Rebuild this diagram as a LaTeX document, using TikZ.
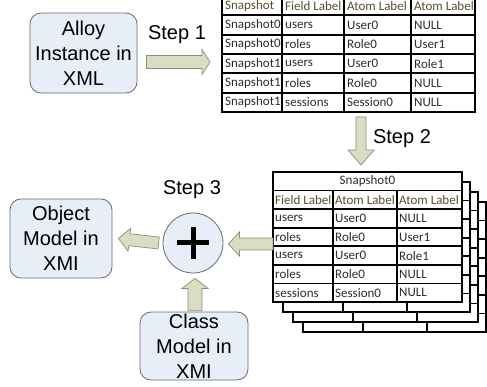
\documentclass[tikz,border=0pt]{standalone}
\usepackage{fontspec}
\setmainfont{Liberation Sans}
\newfontfamily\tabfont{Carlito}
\usetikzlibrary{calc}
\definecolor{boxfill}{RGB}{232,238,248}
\definecolor{boxline}{RGB}{105,105,110}
\definecolor{arrfill}{RGB}{218,221,196}
\definecolor{arrline}{RGB}{140,142,122}
\definecolor{hdr}{RGB}{88,78,38}
\definecolor{celltext}{RGB}{45,45,45}
\tikzset{
  model/.style={draw=boxline, fill=boxfill, rounded corners=11pt, line width=0.8pt,
                align=center, inner sep=0pt, font=\fontsize{20}{25}\selectfont},
  merge/.style={draw=boxline, fill=boxfill, circle, line width=0.8pt,
                minimum size=60pt, inner sep=0pt},
  fat/.style={draw=arrline, fill=arrfill, line width=0.7pt, line join=miter},
  steplbl/.style={font=\fontsize{20}{24}\selectfont},
  cell/.style={anchor=west, inner sep=0pt, text=celltext,
               font=\tabfont\fontsize{13}{15}\selectfont},
  grid/.style={line width=1.8pt, black},
}
% block arrow: tail, tip, half shaft, half head, head length
\newcommand\fatarrow[5]{%
  \coordinate (fa-h) at ($(#2)!#5!(#1)$);
  \filldraw[fat] ($(#1)!#3!90:(#2)$) -- ($(fa-h)!#3!-90:(#1)$) -- ($(fa-h)!#4!-90:(#1)$)
    -- (#2) -- ($(fa-h)!#4!90:(#1)$) -- ($(fa-h)!#3!90:(#1)$) -- ($(#1)!#3!-90:(#2)$) -- cycle;
}

\begin{document}
\begin{tikzpicture}[x=1pt, y=-1pt]
  \useasboundingbox (0,0) rectangle (487,387);
  \clip (0,0) rectangle (487,387);

  \node[model, minimum width=107pt, minimum height=80pt] (alloy) at (83.5,53) {Alloy\\Instance in\\XML};
  \node[model, minimum width=102pt, minimum height=79pt] (objmodel) at (61,238.5) {Object\\Model in\\XMI};
  \node[model, minimum width=108pt, minimum height=68pt] (clsmodel) at (194,346) {Class\\Model in\\XMI};
  \node[merge] (plus) at (193,243) {};
  \draw[line width=5pt] (plus.center) ++(-16,0) -- ++(32,0);
  \draw[line width=5pt] (plus.center) ++(0,-16) -- ++(0,32);

  \node[steplbl] (lbl1) at (177,35) {Step 1};
  \node[steplbl] (lbl2) at (402,139) {Step 2};
  \node[steplbl] (lbl3) at (192,190) {Step 3};

  % flat table of all snapshots
  \foreach \x in {222,282,344,411,475}
    \draw[grid] (\x,-4) -- (\x,112);
  \foreach \r in {0,...,6}
    \draw[grid] (221,{-4+19.33*\r}) -- (476,{-4+19.33*\r});
  \foreach \txt [count=\c from 0] in {Snapshot,Field Label,Atom Label,Atom Label}{
    \pgfmathsetmacro\cx{{222,282,344,411}[\c]+3}
    \node[cell, text=hdr] (top-0-\c) at (\cx,5.7) {\txt};
  }
  \foreach \line [count=\r] in {{Snapshot0,users,User0,NULL},{Snapshot0,roles,Role0,User1},
      {Snapshot1,users,User0,Role1},{Snapshot1,roles,Role0,NULL},{Snapshot1,sessions,Session0,NULL}}
    \foreach \txt [count=\c from 0] in \line{
      \pgfmathsetmacro\cx{{222,282,344,411}[\c]+3}
      \node[cell] (top-\r-\c) at (\cx,{5.7+19.33*\r}) {\txt};
    }

  % one table per snapshot, stacked
  \foreach \i in {3,2,1,0}{
    \pgfmathsetmacro\lx{273+10*\i}
    \pgfmathsetmacro\rx{462+8*\i}
    \pgfmathsetmacro\ty{172+10*\i}
    \filldraw[grid, fill=white] (\lx,\ty) rectangle (\rx,\ty+130);
    \foreach \r in {1,...,6}
      \draw[grid] (\lx,{\ty+18.57*\r}) -- (\rx,{\ty+18.57*\r});
    \draw[grid] (\lx+60,\ty+18.57) -- (\lx+60,\ty+130);
    \draw[grid] (\lx+124,\ty+18.57) -- (\lx+124,\ty+130);
  }
  \node[cell, anchor=center] (snap0) at (367.5,181.3) {Snapshot0};
  \foreach \txt [count=\c from 0] in {Field Label,Atom Label,Atom Label}{
    \pgfmathsetmacro\cx{{273,333,397}[\c]+2}
    \node[cell, text=hdr] (stk-1-\c) at (\cx,199.9) {\txt};
  }
  \foreach \line [count=\r from 2] in {{users,User0,NULL},{roles,Role0,User1},
      {users,User0,Role1},{roles,Role0,NULL},{sessions,Session0,NULL}}
    \foreach \txt [count=\c from 0] in \line{
      \pgfmathsetmacro\cx{{273,333,397}[\c]+2}
      \node[cell] (stk-\r-\c) at (\cx,{181.3+18.57*\r}) {\txt};
    }

  % steps
  \coordinate (s1a) at ($(alloy.east)+(9,9)$);
  \coordinate (s1b) at (210,62);
  \coordinate (s2a) at (361,117);
  \coordinate (s2b) at (361,165);
  \coordinate (s3a) at ($(plus.west)+(-4,0)$);
  \coordinate (s3b) at ($(objmodel.east)+(6,0)$);
  \coordinate (s4a) at (273,244);
  \coordinate (s4b) at ($(plus.east)+(5,1)$);
  \coordinate (s5a) at ($(clsmodel.north)+(1,-1)$);
  \coordinate (s5b) at ($(plus.south)+(2,5)$);
  \fatarrow{s1a}{s1b}{6.5pt}{12.5pt}{8pt}
  \fatarrow{s2a}{s2b}{5pt}{13pt}{15pt}
  \fatarrow{s3a}{s3b}{6pt}{11.5pt}{11pt}
  \fatarrow{s4a}{s4b}{6pt}{12pt}{11pt}
  \fatarrow{s5a}{s5b}{7pt}{13pt}{10pt}
\end{tikzpicture}
\end{document}
